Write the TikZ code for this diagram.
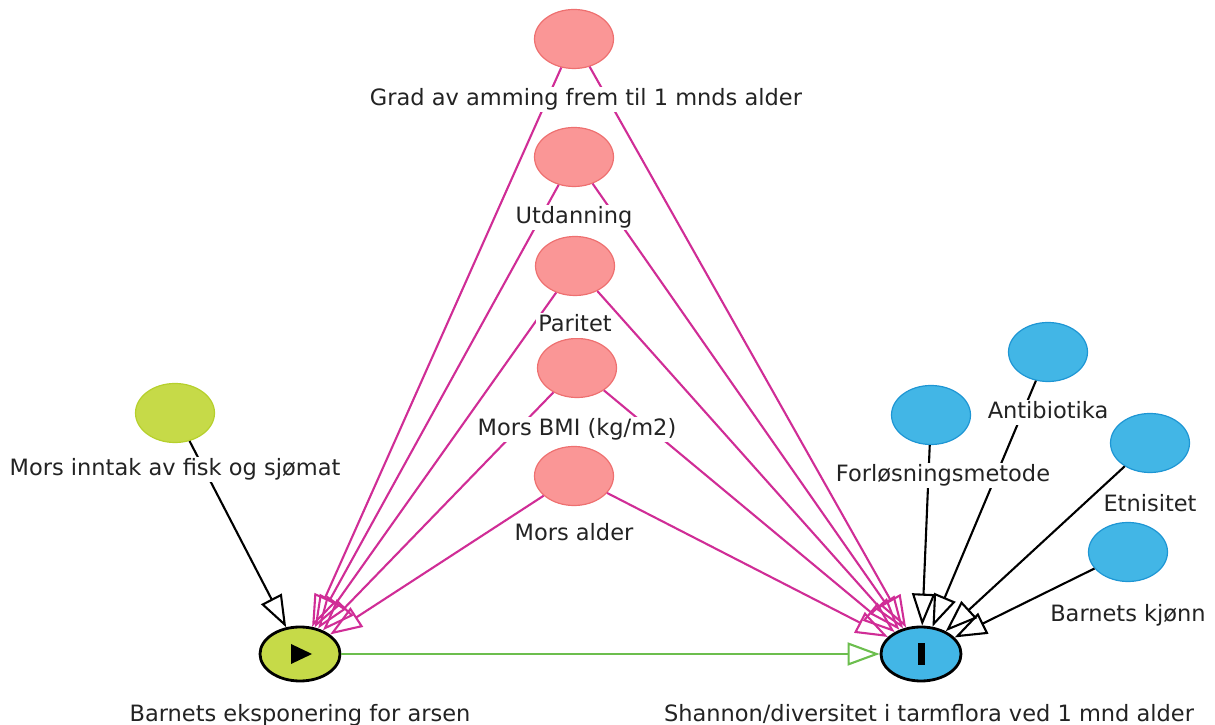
\documentclass[tikz,border=0pt]{standalone}
\usepackage{fontspec}
\setmainfont{DejaVu Sans}
\usetikzlibrary{shapes.geometric,arrows.meta,positioning}
\definecolor{pinkfill}{RGB}{250,150,150}
\definecolor{pinkline}{RGB}{238,112,112}
\definecolor{confedge}{RGB}{208,45,150}
\definecolor{bluefill}{RGB}{66,182,230}
\definecolor{blueline}{RGB}{30,150,212}
\definecolor{greenfill}{RGB}{198,218,72}
\definecolor{greenline}{RGB}{182,208,44}
\definecolor{causeedge}{RGB}{108,190,78}
\definecolor{textgray}{RGB}{35,35,35}

\begin{document}
\begin{tikzpicture}[x=1pt, y=1pt,
	vnode/.style={ellipse, minimum width=79pt, minimum height=59pt, inner sep=0pt, line width=1.2pt},
	conf/.style={vnode, fill=pinkfill, draw=pinkline},
	adj/.style={vnode, fill=bluefill, draw=blueline},
	expadj/.style={vnode, fill=greenfill, draw=greenline},
	mainvar/.style={ellipse, minimum width=80pt, minimum height=54pt, inner sep=0pt, draw=black, line width=2.8pt},
	lbl/.style={fill=white, inner sep=2pt, text height=16pt, text depth=5pt, font=\fontsize{22.5}{26}\selectfont, text=textgray},
	causal/.style={line width=2.1pt, -{Triangle[open, length=32pt, width=23pt]}},
	]
	\useasboundingbox (0,0) rectangle (1215,725);

	\node[conf] (grad) at (574,686) {};
	\node[conf] (utd) at (574,568) {};
	\node[conf] (par) at (575,459) {};
	\node[conf] (bmi) at (577,357) {};
	\node[conf] (alder) at (574,249) {};
	\node[expadj] (fisk) at (175,312) {};
	\node[adj] (forl) at (931,310) {};
	\node[adj] (anti) at (1048,373) {};
	\node[adj] (etn) at (1150,282) {};
	\node[adj] (kjonn) at (1128,173) {};
	\node[mainvar, fill=greenfill] (expo) at (300,71) {};
	\node[mainvar, fill=bluefill] (outc) at (921,71) {};

	\fill (expo.center) ++(-9,10) -- ++(21,-10) -- ++(-21,-10) -- cycle;
	\fill ([xshift=-3.5pt, yshift=-11pt]outc.center) rectangle ++(7,22);

	\foreach \c in {grad, utd, par, bmi, alder} {
		\draw[causal, confedge] (\c) -- (expo);
		\draw[causal, confedge] (\c) -- (outc);
	}
	\draw[causal] (fisk) -- (expo);
	\foreach \c in {forl, anti, etn, kjonn}
		\draw[causal] (\c) -- (outc);
	\draw[causal, causeedge] (expo) -- (outc);

	\node[lbl, below=18pt of grad, xshift=12pt] (gradlbl) {Grad av amming frem til 1 mnds alder};
	\node[lbl, below=18pt of utd] (utdlbl) {Utdanning};
	\node[lbl, below=17pt of par] (parlbl) {Paritet};
	\node[lbl, below=19pt of bmi] (bmilbl) {Mors BMI (kg/m2)};
	\node[lbl, below=16pt of alder] (alderlbl) {Mors alder};
	\node[lbl, below=14pt of fisk] (fisklbl) {Mors inntak av fisk og sjømat};
	\node[lbl, below=18pt of forl, xshift=12pt] (forllbl) {Forløsningsmetode};
	\node[lbl, below=18pt of anti] (antilbl) {Antibiotika};
	\node[lbl, below=20pt of etn] (etnlbl) {Etnisitet};
	\node[lbl, below=21pt of kjonn] (kjonnlbl) {Barnets kjønn};
	\node[lbl, below=21pt of expo] (expolbl) {Barnets eksponering for arsen};
	\node[lbl, below=21pt of outc, xshift=8pt] (outclbl) {Shannon/diversitet i tarmflora ved 1 mnd alder};
\end{tikzpicture}
\end{document}
